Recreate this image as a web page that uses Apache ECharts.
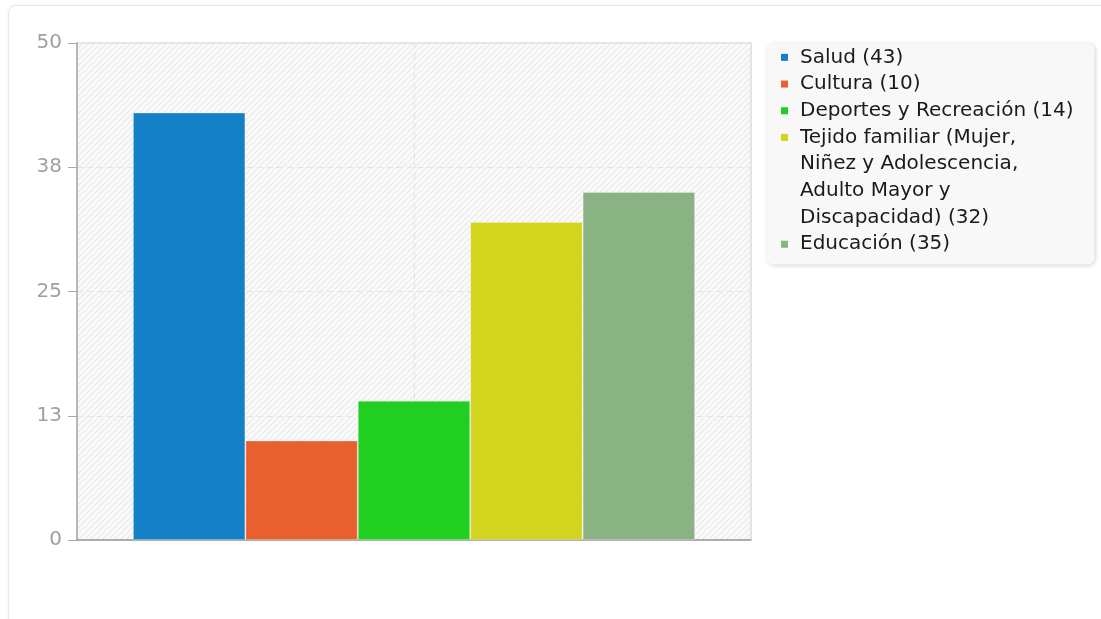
<!DOCTYPE html>
<html>
<head>
<meta charset="utf-8">
<script src="https://cdn.jsdelivr.net/npm/echarts@6/dist/echarts.min.js"></script>
<style>
  html, body { margin: 0; padding: 0; background: #fff; }
  #card { position: absolute; left: 8px; top: 5px; width: 1200px; height: 700px;
          border: 1px solid #e8e8e8; border-radius: 8px; box-shadow: 0 0 3px rgba(0,0,0,0.06); }
  #chart { position: absolute; left: 0; top: 0; width: 1101px; height: 619px; }
</style>
</head>
<body>
<div id="card"></div>
<div id="chart"></div>
<script>
// ---- data ----
const seriesNames = ['Salud', 'Cultura', 'Deportes y Recreación',
  'Tejido familiar (Mujer, Niñez y Adolescencia, Adulto Mayor y Discapacidad)', 'Educación'];
const legendLabels = ['Salud (43)', 'Cultura (10)', 'Deportes y Recreación (14)',
  'Tejido familiar (Mujer,\nNiñez y Adolescencia,\nAdulto Mayor y\nDiscapacidad) (32)', 'Educación (35)'];
const seriesValues = [43, 10, 14, 32, 35];
const seriesColors = ['#1480c8', '#e8602f', '#20cf20', '#d3d41e', '#89b383'];

// hatch pattern for plot background
const tile = document.createElement('canvas');
tile.width = 6; tile.height = 6;
const ctx = tile.getContext('2d');
ctx.fillStyle = '#fafafa';
ctx.fillRect(0, 0, 6, 6);
ctx.strokeStyle = '#eaeaea';
ctx.lineWidth = 1.2;
ctx.beginPath();
ctx.moveTo(-1, 7); ctx.lineTo(7, -1);
ctx.moveTo(-4, 4); ctx.lineTo(4, -4);
ctx.moveTo(2, 10); ctx.lineTo(10, 2);
ctx.stroke();

const LINE_H = 26.7;
const FONT = 'DejaVu Sans';

// legend: colour square drawn as a rich-text token so it sits on the first line
const rich = {
  gap: { width: 12, lineHeight: LINE_H },
  ind: { width: 19, lineHeight: LINE_H },
  t: { fontSize: 20, color: '#1a1a1a', lineHeight: LINE_H, fontFamily: FONT }
};
seriesColors.forEach((c, i) => {
  rich['sq' + i] = { width: 7, height: 7, backgroundColor: c, lineHeight: LINE_H };
});
const legendFormatter = name => {
  const i = seriesNames.indexOf(name);
  return legendLabels[i].split('\n')
    .map((l, k) => (k === 0 ? '{sq' + i + '| }{gap| }' : '{ind| }') + '{t|' + l + '}')
    .join('\n');
};

const chart = echarts.init(document.getElementById('chart'));
chart.setOption({
  backgroundColor: 'transparent',
  animation: false,
  textStyle: { fontFamily: FONT },
  grid: {
    left: 77, top: 43, width: 674, height: 497,
    show: true,
    backgroundColor: { image: tile, repeat: 'repeat' },
    borderColor: '#dedede', borderWidth: 1.5
  },
  legend: {
    orient: 'vertical',
    left: 767, top: 43,
    padding: [1, 21, 7, 8],
    backgroundColor: '#f8f8f8',
    borderRadius: 7,
    shadowBlur: 4, shadowColor: 'rgba(0,0,0,0.18)', shadowOffsetX: 1, shadowOffsetY: 1,
    itemGap: 0,
    itemWidth: 1, itemHeight: 7,
    icon: 'none',
    selectedMode: false,
    formatter: legendFormatter,
    textStyle: { fontSize: 20, color: '#1a1a1a', lineHeight: LINE_H, fontFamily: FONT, rich: rich },
    data: seriesNames
  },
  xAxis: [{
    type: 'category',
    data: [''],
    axisLine: { lineStyle: { color: '#9a9a9a', width: 1.5 } },
    axisTick: { show: false },
    axisLabel: { show: false },
    splitLine: { show: false }
  }, {
    type: 'category',
    data: ['', '', ''],
    boundaryGap: false,
    position: 'bottom',
    axisLine: { show: false },
    axisTick: { show: false },
    axisLabel: { show: false },
    splitLine: { show: true, interval: 0, lineStyle: { color: '#e4e4e4', type: [6, 4], width: 1.2 } }
  }],
  yAxis: {
    type: 'value',
    min: 0, max: 50, interval: 12.5,
    axisLine: { show: true, lineStyle: { color: '#a8a8a8', width: 1.5 } },
    axisTick: { show: true, length: 9, lineStyle: { color: '#a8a8a8' } },
    axisLabel: { margin: 15, fontSize: 20, color: '#a0a0a0', formatter: v => String(Math.round(v)) },
    splitLine: { show: true, lineStyle: { color: '#e4e4e4', type: [6, 4], width: 1.2 } }
  },
  series: seriesNames.map((n, i) => ({
    name: n,
    type: 'bar',
    xAxisIndex: 0,
    barGap: 0,
    barCategoryGap: '16.6%',
    itemStyle: { color: seriesColors[i], borderColor: 'rgba(255,255,255,0.25)', borderWidth: 1 },
    data: [seriesValues[i]]
  }))
});
</script>
</body>
</html>
